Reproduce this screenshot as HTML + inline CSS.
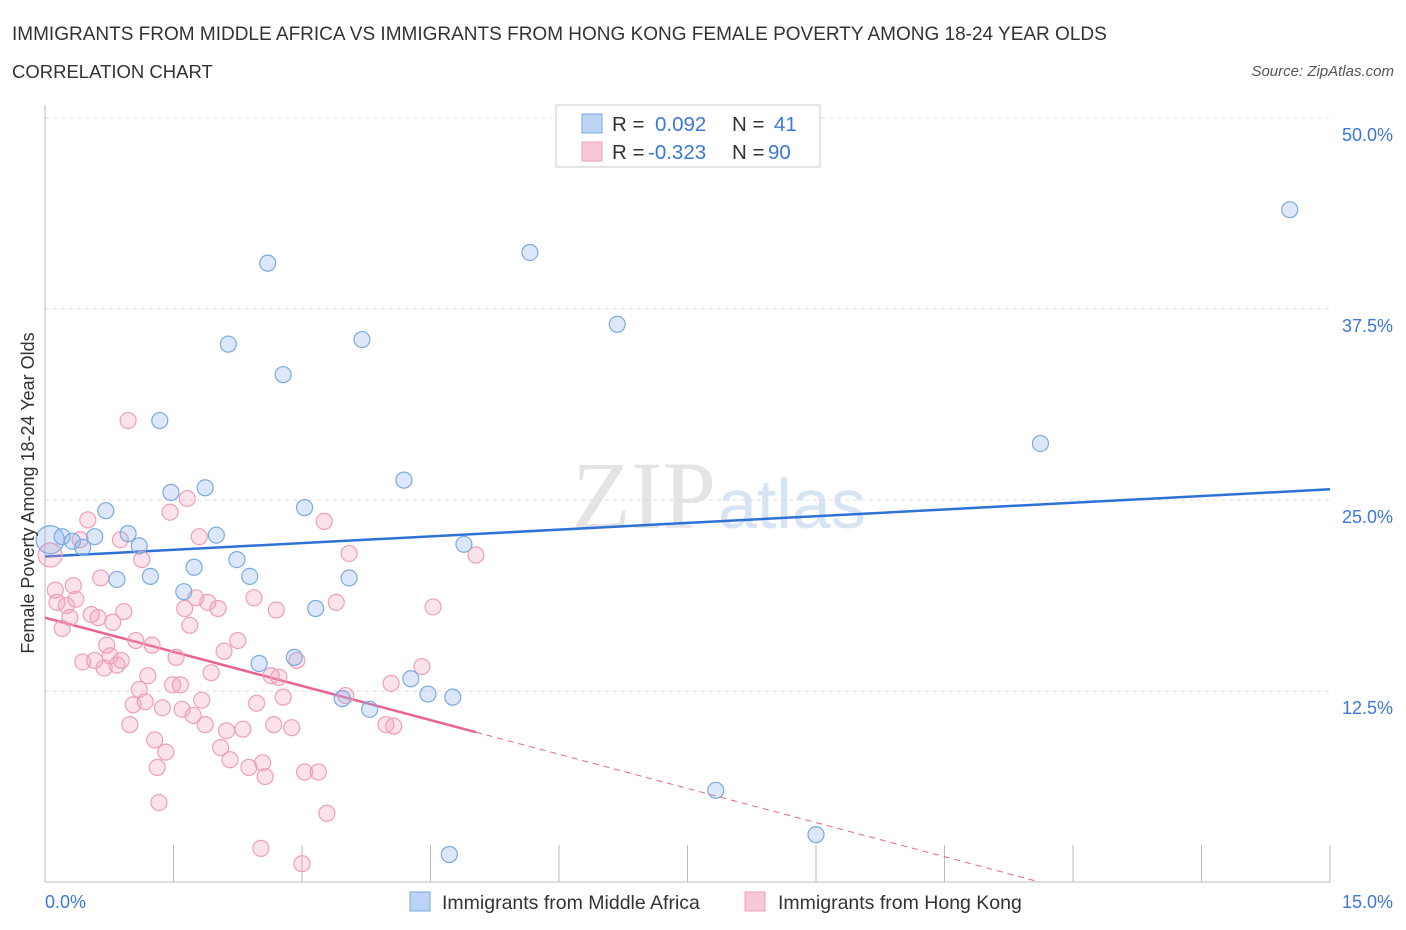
<!DOCTYPE html>
<html><head><meta charset="utf-8"><style>
body{margin:0;background:#fff;font-family:"Liberation Sans",sans-serif;}
svg{display:block}
</style></head><body>
<svg id="chart" width="1406" height="930">
<text x="12" y="40" font-size="19" fill="#333">IMMIGRANTS FROM MIDDLE AFRICA VS IMMIGRANTS FROM HONG KONG FEMALE POVERTY AMONG 18-24 YEAR OLDS</text>
<text x="12" y="78" font-size="18.5" fill="#333">CORRELATION CHART</text>
<text x="1394" y="76" font-size="15" fill="#555" font-style="italic" text-anchor="end">Source: ZipAtlas.com</text>
<text x="716" y="528" font-size="96" fill="#e4e4e4" font-family="Liberation Serif,serif" text-anchor="end">ZIP</text>
<text x="718" y="528" font-size="70" fill="#d6e4f4">atlas</text>
<g id="grid"></g><g id="axes"></g><g id="trend"></g><g id="pts"></g>
<text transform="translate(34,493) rotate(-90)" font-size="18" fill="#333" text-anchor="middle">Female Poverty Among 18-24 Year Olds</text>
<text x="45" y="908" font-size="18" fill="#3b78d8">0.0%</text>
<text x="1393" y="908" font-size="18" fill="#3b78d8" text-anchor="end">15.0%</text>
<g>
<rect x="556" y="105" width="264" height="62" fill="#fff" stroke="#ccc"/>
<rect x="582" y="114" width="20" height="19" fill="#bcd4f4" stroke="#7aaae0"/>
<text x="612" y="131" font-size="20.5" fill="#333">R = <tspan fill="#3b78d8" x="655">0.092</tspan><tspan x="732">N = </tspan><tspan fill="#3b78d8" x="774">41</tspan></text>
<rect x="582" y="142" width="20" height="19" fill="#f8c8d8" stroke="#eea0b8"/>
<text x="612" y="159" font-size="20.5" fill="#333">R = <tspan fill="#3b78d8" x="648">-0.323</tspan><tspan x="732">N = </tspan><tspan fill="#3b78d8" x="768">90</tspan></text>
</g>
<g>
<rect x="410" y="892" width="20" height="19" fill="#bcd4f4" stroke="#7aaae0"/>
<text x="442" y="909" font-size="19.5" fill="#333">Immigrants from Middle Africa</text>
<rect x="745" y="892" width="20" height="19" fill="#f8c8d8" stroke="#eea0b8"/>
<text x="778" y="909" font-size="19.5" fill="#333">Immigrants from Hong Kong</text>
</g>
</svg>
<script>
const yTicks=[12.5,25,37.5,50];
const yTickLabels=["12.5%","25.0%","37.5%","50.0%"];
const blueX=[0.06,0.20,0.32,0.44,0.58,0.71,0.84,0.97,1.10,1.23,1.34,1.47,1.62,1.74,1.87,2.00,2.14,2.24,2.39,2.50,2.60,2.78,2.91,3.03,3.16,3.47,3.55,3.70,3.79,4.19,4.27,4.47,4.72,4.76,4.89,5.66,6.68,7.83,9.00,11.62,14.53];
const blueY=[22.4,22.6,22.3,21.9,22.6,24.3,19.8,22.8,22.0,20.0,30.2,25.5,19.0,20.6,25.8,22.7,35.2,21.1,20.0,14.3,40.5,33.2,14.7,24.5,17.9,12.0,19.9,35.5,11.3,26.3,13.3,12.3,1.8,12.1,22.1,41.2,36.5,6.0,3.1,28.7,44.0];
const pinkX=[0.06,0.12,0.14,0.20,0.25,0.29,0.33,0.36,0.41,0.44,0.50,0.54,0.58,0.62,0.65,0.69,0.72,0.76,0.79,0.84,0.88,0.89,0.92,0.97,0.99,1.03,1.06,1.10,1.13,1.17,1.20,1.25,1.28,1.31,1.33,1.37,1.41,1.46,1.49,1.53,1.58,1.60,1.63,1.66,1.69,1.73,1.76,1.80,1.83,1.87,1.90,1.94,2.02,2.05,2.09,2.12,2.16,2.25,2.31,2.38,2.44,2.47,2.52,2.54,2.57,2.64,2.67,2.70,2.73,2.78,2.88,2.94,3.00,3.03,3.19,3.26,3.29,3.40,3.51,3.55,3.98,4.04,4.07,4.40,4.53,5.03];
const pinkY=[21.4,19.1,18.3,16.6,18.1,17.3,19.4,18.5,22.4,14.4,23.7,17.5,14.5,17.3,19.9,14.0,15.5,14.8,17.0,14.2,22.4,14.5,17.7,30.2,10.3,11.6,15.8,12.6,21.1,11.8,13.5,15.5,9.3,7.5,5.2,11.4,8.5,24.2,12.9,14.7,12.9,11.3,17.9,25.1,16.8,10.9,18.6,22.6,11.9,10.3,18.3,13.7,17.9,8.8,15.1,9.9,8.0,15.8,10.0,7.5,18.6,11.7,2.2,7.8,6.9,13.5,10.3,17.8,13.4,12.1,10.1,14.5,1.2,7.2,7.2,23.6,4.5,18.3,12.2,21.5,10.3,13.0,10.2,14.1,18.0,21.4];
const blueTrend=[21.3,25.7];
const pinkTrend=[17.3,-1.49];
const NS="http://www.w3.org/2000/svg";
const X0=45,X1=1330,Y0=882,Y50=118;
const sx=v=>X0+(v/15)*(X1-X0);
const sy=v=>Y0-(v/50)*(Y0-Y50);
function mk(t,a,p){const e=document.createElementNS(NS,t);for(const k in a)e.setAttribute(k,a[k]);p.appendChild(e);return e;}
const grid=document.getElementById('grid'),axes=document.getElementById('axes'),trend=document.getElementById('trend'),pts=document.getElementById('pts');
yTicks.forEach((t,i)=>{
 const l=mk('line',{x1:X0,x2:X1,y1:sy(t),y2:sy(t),stroke:'#ddd','stroke-dasharray':'4,4'},grid);
 
 
 const tx=mk('text',{x:1393,y:sy(t)+23,'font-size':18,fill:'#3b78d8','text-anchor':'end'},grid);
 tx.textContent=yTickLabels[i];
 
 
});
const ya=mk('line',{x1:X0,x2:X0,y1:105,y2:Y0,stroke:'#bbb'},axes);


const xa=mk('line',{x1:X0,x2:X1,y1:Y0,y2:Y0,stroke:'#bbb'},axes);


for(let i=0;i<=10;i++){
 const t=mk('line',{x1:sx(i*1.5),x2:sx(i*1.5),y1:Y0-37,y2:Y0,stroke:'#bbb'},axes);
 
 
}
const bl=mk('line',{x1:sx(0),x2:sx(15),y1:sy(blueTrend[0]),y2:sy(blueTrend[1]),stroke:'#2f72d6','stroke-width':2.5},trend);


const pEnd=5.03,pZero=-pinkTrend[0]/pinkTrend[1];
const pl=mk('line',{x1:sx(0),x2:sx(pEnd),y1:sy(pinkTrend[0]),y2:sy(pinkTrend[0]+pinkTrend[1]*pEnd),stroke:'#e8638f','stroke-width':2.5},trend);


const pd=mk('line',{x1:sx(pEnd),x2:sx(pZero),y1:sy(pinkTrend[0]+pinkTrend[1]*pEnd),y2:sy(0),stroke:'#e8638f','stroke-width':1,'stroke-dasharray':'6,5'},trend);


pinkX.forEach((x,i)=>{
 const c=mk('circle',{cx:sx(x),cy:sy(pinkY[i]),r:i===0?12:8,fill:'rgba(243,160,188,0.3)',stroke:'#eea0b8','stroke-width':1.2},pts);
 
 
});
blueX.forEach((x,i)=>{
 const c=mk('circle',{cx:sx(x),cy:sy(blueY[i]),r:i===0?14:8,fill:'rgba(140,180,235,0.3)',stroke:'#7aaae0','stroke-width':1.2},pts);
 
 
});
</script>
</body></html>
